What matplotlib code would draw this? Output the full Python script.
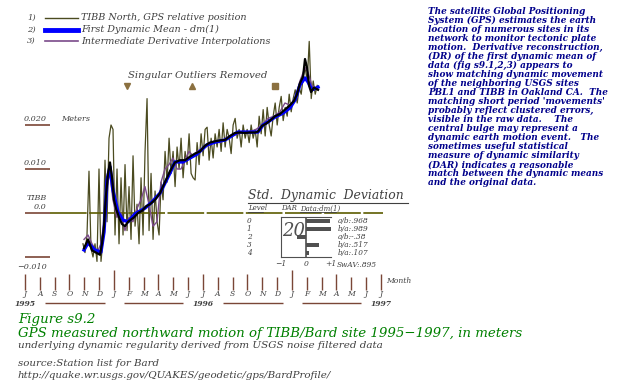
import matplotlib.pyplot as plt
import numpy as np

plt.rcParams['font.family'] = ['DejaVu Serif']
plt.rcParams['font.style'] = 'italic'

# ---------------- data ----------------
# time in months since Jul 1995, positions in mm (plotted in meters)
months = ['J', 'A', 'S', 'O', 'N', 'D', 'J', 'F', 'M', 'A', 'M', 'J',
          'J', 'A', 'S', 'O', 'N', 'D', 'J', 'F', 'M', 'A', 'M', 'J', 'J']
years = ['1995', '1996', '1997']
year_month = [0, 12, 24]

# raw GPS north component (every ~4 days)
raw_start = 3.91
raw_step = 0.135
raw_mm = [-7, -9, -5, 9.5, -8, -10, -7, -11, 10, -11,
          -6, 12, -2, 17, 20, 19, -5, 10, -7, 8,
          -5, 11, -4, 6, -6, 13, -3, 2, -7, 8,
          -5, 14, 26, -4, 9, -6, 5, -2, -5, 7,
          3, 14, 7, 17, 9, 14, 6, 15, 10, 17,
          8, 14, 11, 18, 9, 8, 7.5, 16, 11, 18,
          13, 19, 19.5, 12, 17, 12.5, 18, 15, 19, 14,
          20.5, 15, 19, 17, 13.5, 20, 21.5, 17, 19, 15,
          20, 17, 19, 16, 20, 17, 19, 15, 22, 18,
          23.5, 17.5, 24, 20, 17.5, 22, 25, 20, 24, 26.5,
          21, 24, 22, 27, 23, 26, 28, 25, 28.5, 27,
          31, 33, 30, 39, 26, 30, 27, 29]

# first dynamic mean dm(1)
mean_t = [3.98, 4.25, 4.72, 5.12, 5.33, 5.53, 5.73, 5.93, 6.27, 6.61,
          6.95, 7.42, 8.09, 8.56, 9.10, 9.78, 10.11, 10.65, 11.13, 11.60,
          12.27, 12.81, 13.49, 14.36, 15.17, 15.71, 16.05, 16.39, 16.86, 17.40,
          17.87, 18.21, 18.54, 18.88, 19.08, 19.35, 19.76]
mean_mm = [-8.4, -6.8, -8.4, -8.9, -4.3, 7.5, 10.5, 5.2, 0.2, -1.6,
           -2.0, -0.2, 1.1, 2.5, 4.5, 9.1, 11.6, 11.6, 12.5, 13.4,
           15.5, 16.1, 16.6, 18.4, 18.4, 18.4, 20.0, 20.7, 21.8, 22.7,
           23.9, 25.7, 29.1, 30.7, 29.8, 28.0, 28.6]

# derivative reconstruction (black)
dr_t = [3.98, 4.25, 4.52, 4.79, 5.06, 5.19, 5.33, 5.46, 5.60, 5.73,
        5.87, 6.00, 6.14, 6.34, 6.54, 6.74, 6.95, 7.15, 7.35, 7.62,
        7.89, 8.16, 8.43, 8.77, 9.10, 9.44, 9.78, 10.11, 10.45, 10.79,
        11.13, 11.46, 11.80, 12.14, 12.47, 12.81, 13.15, 13.49, 13.82, 14.16,
        14.50, 14.83, 15.17, 15.51, 15.71, 15.98, 16.25, 16.52, 16.86, 17.19,
        17.53, 17.87, 18.14, 18.34, 18.54, 18.75, 18.88, 19.02, 19.15, 19.29,
        19.49, 19.76]
dr_mm = [-8, -6, -8.5, -9, -9.5, -7, -3, 4, 9, 11.5,
         8, 3, 1, -1, -2.5, -3, -2, -1.5, -1, 0,
         0.5, 1.5, 2, 3, 4.5, 7, 9.5, 11.5, 12, 12,
         12.8, 13.5, 14, 15.3, 16, 16.3, 16.5, 16.6, 17.5, 18.2,
         18.3, 18.2, 18.3, 18.3, 18.5, 19.8, 20.3, 21, 22, 22.5,
         23.5, 24.5, 25.5, 27, 29.5, 31, 35, 33, 29, 27.5,
         28.5, 28]

# intermediate derivative interpolations (purple)
idi_t = [3.98, 4.25, 4.52, 4.86, 5.12, 5.33, 5.53, 5.73, 5.93, 6.20,
         6.47, 6.74, 7.01, 7.28, 7.55, 7.82, 8.09, 8.36, 8.63, 8.90,
         9.17, 9.44, 9.71, 9.98, 10.25, 10.52, 10.79, 11.06, 11.33, 11.60,
         11.87, 12.14, 12.47, 12.81, 13.15, 13.55, 13.96, 14.36, 14.77, 15.17,
         15.58, 15.98, 16.39, 16.79, 17.19, 17.53, 17.87, 18.21, 18.54, 18.88,
         19.08, 19.35, 19.76]
idi_mm = [-6, -5, -7, -9, -7, -2, 6, 9, 3, -1,
          0, -4, -1, -2, 1, 3, 6, 2, -3, -2,
          7, 10, 11, 12.5, 10, 10, 12, 14, 13, 14,
          14.5, 15, 15.5, 16.5, 16, 17, 17.5, 18, 18.5, 18.5,
          19, 20, 21.5, 22, 23, 25, 24.5, 26, 30, 33,
          32, 29, 28]

outlier_t = [6.88, 11.26, 16.86]
outlier_mm = [28.9, 28.9, 28.9]
outlier_marker = ['v', '^', 's']

# std. dynamic deviation table
levels = [0, 1, 2, 3, 4]
dar = [0.968, 0.989, -0.38, 0.517, 0.107]
dar_labels = ['a/b:.968', 'b/a:.989', 'a/b:-.38', 'b/a:.517', 'b/a:.107']
swav = 'SwAV:.895'

yticks_m = [0.02, 0.01, 0.0, -0.01]

legend_items = ['TIBB North, GPS relative position',
                'First Dynamic Mean - dm(1)',
                'Intermediate Derivative Interpolations']

notes = ["The satellite Global Positioning",
         "System (GPS) estimates the earth",
         "location of numerous sites in its",
         "network to monitor tectonic plate",
         "motion.  Derivative reconstruction,",
         "(DR) of the first dynamic mean of",
         "data (fig s9.1,2,3) appears to",
         "show matching dynamic movement",
         "of the neighboring USGS sites",
         "PBL1 and TIBB in Oakland CA.  The",
         "matching short period 'movements'",
         "probably reflect clustered errors,",
         "visible in the raw data.    The",
         "central bulge may represent a",
         "dynamic earth motion event.   The",
         "sometimes useful statistical",
         "measure of dynamic similarity",
         "(DAR) indicates a reasonable",
         "match between the dynamic means",
         "and the original data."]

# ---------------- layout ----------------
W, H = 618, 381
X0, PXM = 25, 14.83      # pixel of Jul 1995, pixels per month
Y0, PXMM = 213, 4.4      # pixel of zero, pixels per mm
GRAY = '#404040'
BROWN = '#7a4636'
OLIVE = '#4b4b20'

fig = plt.figure(figsize=(W / 100, H / 100), dpi=100)
ax = fig.add_axes([0, 0, 1, 1])
ax.set_xlim(-X0 / PXM, (W - X0) / PXM)
ax.set_ylim((Y0 - H) / PXMM / 1000, Y0 / PXMM / 1000)
ax.axis('off')

px = fig.add_axes([0, 0, 1, 1])
px.set_xlim(0, W)
px.set_ylim(H, 0)
px.axis('off')

def fy(ypix):
    return 1 - ypix / H

xt = ax.get_xaxis_transform()

# series
raw_t = raw_start + raw_step * np.arange(len(raw_mm))
ax.plot(raw_t, np.array(raw_mm) / 1000, color=OLIVE, lw=0.9, zorder=2)
ax.plot(idi_t, np.array(idi_mm) / 1000, color='#7a4a8a', lw=1.0, zorder=3)
ax.plot(mean_t, np.array(mean_mm) / 1000, color='#0000ff', lw=2.4, zorder=4)
ax.plot(dr_t, np.array(dr_mm) / 1000, color='black', lw=1.6, zorder=5)
for t, v, m in zip(outlier_t, outlier_mm, outlier_marker):
    ax.plot(t, v / 1000, marker=m, ms=4.5, color='#8b7040', zorder=5)

# y axis stubs
ax.hlines(yticks_m, 0, 1.69, color=BROWN, lw=1.2)
ax.hlines(0, 1.69, 24.14, color='#5c5c00', lw=1.2, linestyles=(0, (22, 1.5)))
for v in yticks_m:
    ypix = Y0 - v * 1000 * PXMM
    lab = '0.0' if v == 0 else f'{v:.3f}'.replace('-', '\u2212')
    dy = 10 if v < 0 else -6
    px.text(47, ypix + dy, lab, ha='right', va='center', fontsize=5.8, color=GRAY)
px.text(47, 198, 'TIBB', ha='right', va='center', fontsize=5.8, color=GRAY)
px.text(61, 119, 'Meters', ha='left', va='center', fontsize=5.8, color=GRAY)

# month axis
for i, lab in enumerate(months):
    top = 270 if i % 12 == 6 else (274 if i % 3 == 0 else 277)
    ax.vlines(i, fy(290), fy(top), transform=xt, color=BROWN, lw=1.0)
    ax.text(i, fy(294), lab, transform=xt, ha='center', va='center',
            fontsize=5.5, color=GRAY)
for m, yr in zip(year_month, years):
    ax.text(m, fy(304), yr, transform=xt, ha='center', va='center',
            fontsize=5.5, color=GRAY, fontweight='bold')
for a, b in [(1.35, 5.39), (6.68, 10.65), (13.35, 17.4), (18.67, 22.66)]:
    ax.hlines(fy(303), a, b, transform=xt, color=BROWN, lw=1.0)
px.text(386, 281, 'Month', ha='left', va='center', fontsize=5.5, color=GRAY)

# legend
leg_style = [dict(color=OLIVE, lw=1.0), dict(color='#0000ff', lw=3.5),
             dict(color='#7a4a8a', lw=1.2)]
for k, (txt, st) in enumerate(zip(legend_items, leg_style)):
    y = 18 + k * 11.5
    px.text(27, y, f'{k + 1})', ha='left', va='center', fontsize=6, color=GRAY)
    px.plot([45, 78], [y, y], **st)
    px.text(81, y, txt, ha='left', va='center', fontsize=6.9, color=GRAY)

px.text(128, 75, 'Singular Outliers Removed', ha='left', va='center',
        fontsize=7.3, color=GRAY)

# std dynamic deviation inset
px.text(248, 196, 'Std.  Dynamic  Deviation', ha='left', va='center',
        fontsize=8.9, color=GRAY)
px.plot([248, 408], [203, 203], color=GRAY, lw=0.8)
px.text(248, 208.5, 'Level', ha='left', va='center', fontsize=5, color=GRAY)
px.plot([248, 263], [211.5, 211.5], color=GRAY, lw=0.6)
px.text(281, 208.5, 'DAR', ha='left', va='center', fontsize=5, color=GRAY)
px.text(300, 208.5, 'Data:dm(1)', ha='left', va='center', fontsize=5, color=GRAY)
px.plot([300, 336], [211.5, 211.5], color=GRAY, lw=0.6)

ai = fig.add_axes([281 / W, 1 - 257 / H, 50 / W, 40 / H])
ai.barh(levels, dar, height=0.6, color='#505050')
ai.set_xlim(-1, 1)
ai.set_ylim(4.5, -0.5)
ai.patch.set_alpha(0)
ai.axvline(0, color='#505050', lw=1.2)
for s in ['left', 'top', 'bottom']:
    ai.spines[s].set_color('#505050')
ai.spines['right'].set_visible(False)
ai.set_yticks([])
ai.set_xticks([-1, 0, 1], ['\u22121', '0', '+1'])
ai.tick_params(axis='x', length=0, pad=2.5, labelsize=5.5, labelcolor=GRAY)
ai.text(-0.5, 1.3, '20', ha='center', va='center', fontsize=13, color='#505050')
for lv, lab in zip(levels, dar_labels):
    ai.text(-2.28, lv, str(lv), ha='center', va='center', fontsize=5.3,
            color=GRAY, clip_on=False)
    ai.text(1.25, lv, lab, ha='left', va='center', fontsize=5.3,
            color=GRAY, clip_on=False)
ai.text(1.25, 5.5, swav, ha='left', va='center', fontsize=5.3,
        color=GRAY, clip_on=False)

# notes on the right
for i, line in enumerate(notes):
    px.text(428, 11.7 + 9.0 * i, line, ha='left', va='center', fontsize=6.4,
            fontweight='bold', color='#00008b')

# captions
GREEN = '#008000'
px.text(18, 320, 'Figure s9.2', ha='left', va='center', fontsize=9.6, color=GREEN)
px.text(18, 333, 'GPS measured northward motion of TIBB/Bard site 1995\u22121997, in meters',
        ha='left', va='center', fontsize=9.6, color=GREEN)
px.text(18, 346, 'underlying dynamic regularity derived from USGS noise filtered data',
        ha='left', va='center', fontsize=7.5, color=GRAY)
px.text(18, 364, 'source:Station list for Bard', ha='left', va='center',
        fontsize=7.4, color=GRAY)
px.text(18, 375, 'http://quake.wr.usgs.gov/QUAKES/geodetic/gps/BardProfile/',
        ha='left', va='center', fontsize=7.4, color=GRAY)

fig.savefig('out.png', dpi=100)
